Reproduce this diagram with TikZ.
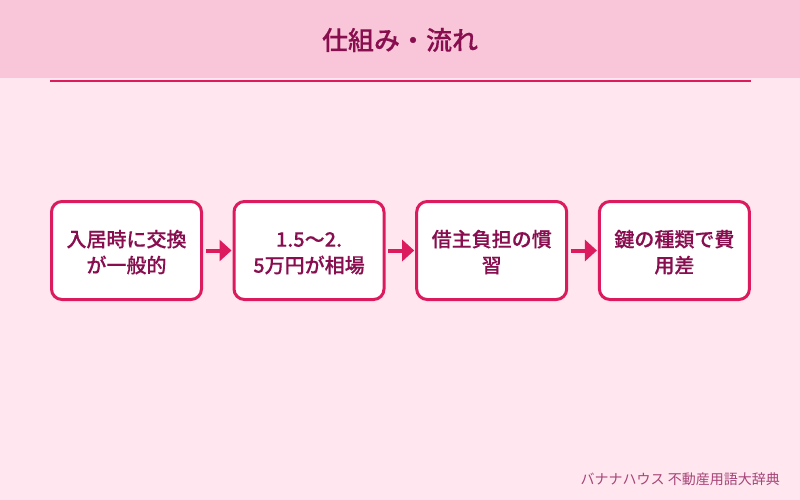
\documentclass[tikz,border=0pt]{standalone}
\usepackage{fontspec}
\setmainfont{Noto Sans CJK JP}
\newfontfamily\medfont[FakeBold=0.25]{Noto Sans CJK JP Medium}
\usetikzlibrary{arrows.meta}
\definecolor{pagebg}{HTML}{FFE6EF}
\definecolor{headbg}{HTML}{F9C6D9}
\definecolor{accent}{HTML}{DC1A5E}
\definecolor{ink}{HTML}{880E4F}
\newcommand{\dnline}[1]{\raisebox{-4.2pt}[15pt][5pt]{#1}}
\tikzset{
  stepbox/.style={draw=accent,fill=white,line width=3pt,rounded corners=10.5pt,outer sep=0pt,inner sep=0pt,
    minimum width=150pt,minimum height=98pt,text width=145pt,align=center,text=ink,
    font=\medfont\fontsize{20}{26}\selectfont},
  flow/.style={draw=accent,line width=4pt,shorten <=4pt,shorten >=2.5pt,
    -{Triangle[length=12pt,width=21pt]}},
  titletext/.style={text=ink,font=\medfont\fontsize{26}{30}\selectfont,inner sep=0pt},
  foot/.style={text=ink,text opacity=0.75,font=\fontsize{14}{16}\selectfont,anchor=east,inner sep=0pt}
}
\begin{document}
\begin{tikzpicture}[x=1pt,y=-1pt]
\useasboundingbox (0,0) rectangle (800,500);
\fill[pagebg] (0,0) rectangle (800,500);
\fill[headbg] (0,0) rectangle (800,78);
\fill[accent] (50,80.2) rectangle (750.6,82);
\node[titletext] (title) at (400,40) {仕組み・流れ};
\node[stepbox] (s1) at (126.5,250.5) {\dnline{入居時に交換}\\\dnline{が一般的}};
\node[stepbox] (s2) at (309,250.5) {\dnline{1.5～2.}\\\dnline{5万円が相場}};
\node[stepbox] (s3) at (491.7,250.5) {\dnline{借主負担の慣}\\\dnline{習}};
\node[stepbox] (s4) at (674.4,250.5) {\dnline{鍵の種類で費}\\\dnline{用差}};
\draw[flow] (s1) -- (s2);
\draw[flow] (s2) -- (s3);
\draw[flow] (s3) -- (s4);
\node[foot] (credit) at (780,479) {バナナハウス 不動産用語大辞典};
\end{tikzpicture}
\end{document}
